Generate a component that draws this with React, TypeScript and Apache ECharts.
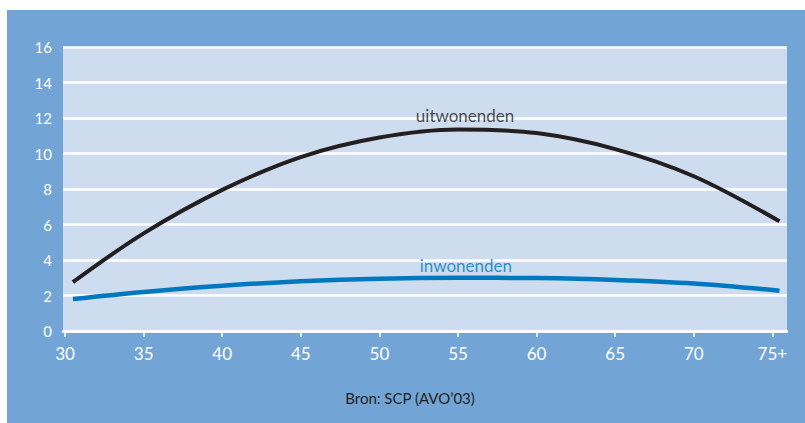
import React, { useEffect, useRef } from "react";
import * as echarts from "echarts";

const ages = [30.5, 35, 40, 45, 50, 55, 60, 65, 70, 75.45];
const uitwonenden = [2.75, 5.5, 7.95, 9.8, 10.9, 11.35, 11.15, 10.25, 8.72, 6.18];
const inwonenden = [1.8, 2.2, 2.55, 2.8, 2.95, 3.0, 2.98, 2.88, 2.68, 2.27];
const xTicks = [30, 35, 40, 45, 50, 55, 60, 65, 70, 75];
const xTickLabels = ["30", "35", "40", "45", "50", "55", "60", "65", "70", "75+"];
const yTicks = [0, 2, 4, 6, 8, 10, 12, 14, 16];
const seriesNames = ["uitwonenden", "inwonenden"];
const source = "Bron: SCP (AVO’03)";

const FONT = "Lato, 'Open Sans', sans-serif";

export default function App() {
  const ref = useRef<HTMLDivElement>(null);
  useEffect(() => {
    if (!ref.current) return;
    const chart = echarts.init(ref.current, undefined, { renderer: "svg" });
    const pair = (vals: number[]) => ages.map((a, i) => [a, vals[i]]);
    chart.setOption({
      animation: false,
      backgroundColor: "#ffffff",
      textStyle: { fontFamily: FONT },
      graphic: [
        {
          type: "rect",
          z: -10,
          silent: true,
          shape: { x: 7, y: 10, width: 798, height: 413 },
          style: { fill: "#72a5d5" },
        },
        {
          type: "text",
          x: 410,
          y: 398,
          style: {
            text: source,
            fill: "#231f20",
            font: `15px ${FONT}`,
            align: "center",
            verticalAlign: "middle",
          },
        },
      ],
      grid: {
        left: 63,
        top: 47,
        right: 18,
        bottom: 92,
        show: true,
        backgroundColor: "#cddcee",
        borderWidth: 0,
        containLabel: false,
      },
      xAxis: {
        type: "value",
        min: 29.87,
        max: 75.93,
        axisLine: { show: true, lineStyle: { color: "#ffffff", width: 2.5 } },
        axisTick: {
          show: true,
          customValues: xTicks,
          length: 6,
          lineStyle: { color: "#ffffff", width: 1.5 },
        },
        axisLabel: {
          customValues: xTicks,
          color: "#ffffff",
          fontSize: 17,
          fontFamily: FONT,
          margin: 14,
          formatter: (v: number) => xTickLabels[xTicks.indexOf(v)] ?? String(v),
        },
        splitLine: { show: false },
      },
      yAxis: {
        type: "value",
        min: 0,
        max: 16,
        interval: 2,
        axisLine: { show: false },
        axisTick: { show: false },
        axisLabel: {
          color: "#ffffff",
          fontSize: 15,
          fontFamily: FONT,
          margin: 11,
          formatter: (v: number) => (yTicks.includes(v) ? String(v) : ""),
        },
        splitLine: { show: true, lineStyle: { color: "#ffffff", width: 2.5 } },
      },
      series: [
        {
          name: seriesNames[0],
          type: "line",
          smooth: 0.35,
          symbol: "none",
          data: pair(uitwonenden),
          lineStyle: { color: "#231f20", width: 4, cap: "butt" },
          z: 3,
        },
        {
          name: seriesNames[1],
          type: "line",
          smooth: 0.35,
          symbol: "none",
          data: pair(inwonenden),
          lineStyle: { color: "#0078bf", width: 4.5, cap: "butt" },
          z: 2,
        },
        {
          type: "scatter",
          symbolSize: 0,
          silent: true,
          data: [[55.45, 12.15]],
          label: {
            show: true,
            formatter: seriesNames[0],
            position: "inside",
            color: "#231f20",
            fontSize: 17,
            fontFamily: FONT,
          },
        },
        {
          type: "scatter",
          symbolSize: 0,
          silent: true,
          data: [[55.5, 3.7]],
          label: {
            show: true,
            formatter: seriesNames[1],
            position: "inside",
            color: "#0078bf",
            fontSize: 17,
            fontFamily: FONT,
          },
        },
      ],
    });
    return () => chart.dispose();
  }, []);
  return (
    <div
      ref={ref}
      style={{ position: "fixed", left: 0, top: 0, width: 805, height: 423 }}
    />
  );
}
